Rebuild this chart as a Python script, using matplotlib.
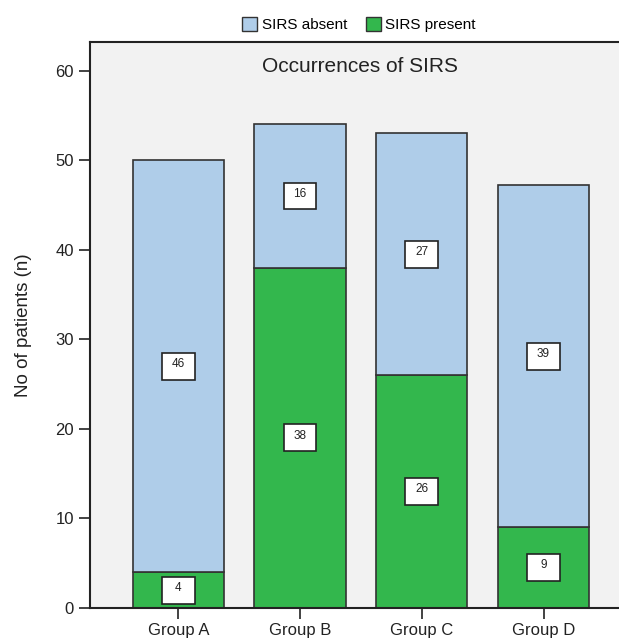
import numpy as np
import matplotlib.pyplot as plt
from matplotlib.patches import Rectangle, Patch

plt.rcParams['font.family'] = ['Liberation Sans', 'DejaVu Sans']

# data
groups = ['Group A', 'Group B', 'Group C', 'Group D']
present = [4, 38, 26, 9]
absent = [46, 16, 27, 38.2]
present_labels = ['4', '38', '26', '9']
absent_labels = ['46', '16', '27', '39']

col_absent = '#afcde9'
col_present = '#33b74d'
edge = '#333333'

fig = plt.figure(figsize=(6.19, 6.38), dpi=100)
ax = fig.add_axes([90/619, 30/638, 1 - 90/619, (608-42)/638])
ax.set_facecolor('#f2f2f2')

x = np.arange(len(groups))
w = 0.75
ax.bar(x, present, w, color=col_present, edgecolor=edge, linewidth=1.2, zorder=2)
ax.bar(x, absent, w, bottom=present, color=col_absent, edgecolor=edge, linewidth=1.2, zorder=2)

# white label boxes in the middle of each segment
bw, bh = 0.27, 3.0
def label(xc, yc, txt):
    ax.add_patch(Rectangle((xc - bw/2, yc - bh/2), bw, bh, facecolor='white',
                           edgecolor='#222222', linewidth=1.2, zorder=3))
    ax.text(xc, yc + 0.25, txt, ha='center', va='center', fontsize=8.5,
            color='#222222', zorder=4)

for i in range(len(groups)):
    label(x[i], present[i] / 2, present_labels[i])
    label(x[i], present[i] + absent[i] / 2, absent_labels[i])

ax.set_xlim(-0.725, 3.62)
ax.set_ylim(0, 63.2)
ax.set_yticks([0, 10, 20, 30, 40, 50, 60])
ax.set_xticks(x)
ax.set_xticklabels(groups)
ax.tick_params(axis='both', labelsize=12, length=8, width=1.2, color='#222222',
               labelcolor='#222222', direction='out')
ax.tick_params(axis='x', pad=2.5)
ax.set_ylabel('No of patients (n)', fontsize=13.5, color='#222222', labelpad=17)

ax.spines['right'].set_visible(False)
for s in ['left', 'bottom', 'top']:
    ax.spines[s].set_linewidth(1.5)
    ax.spines[s].set_color('#222222')

ax.text(0.5 * (x[0] + x[-1]) - 0.01, 60.5, 'Occurrences of SIRS', ha='center',
        va='center', fontsize=15, color='#222222')

handles = [Patch(facecolor=col_absent, edgecolor=edge, label='SIRS absent'),
           Patch(facecolor=col_present, edgecolor=edge, label='SIRS present')]
fig.legend(handles=handles, loc='upper center', bbox_to_anchor=(0.58, 0.995), ncol=2,
           frameon=False, fontsize=11, handlelength=1.0, handleheight=1.0,
           handletextpad=0.3, columnspacing=1.2)

fig.savefig('out.png', dpi=100)
